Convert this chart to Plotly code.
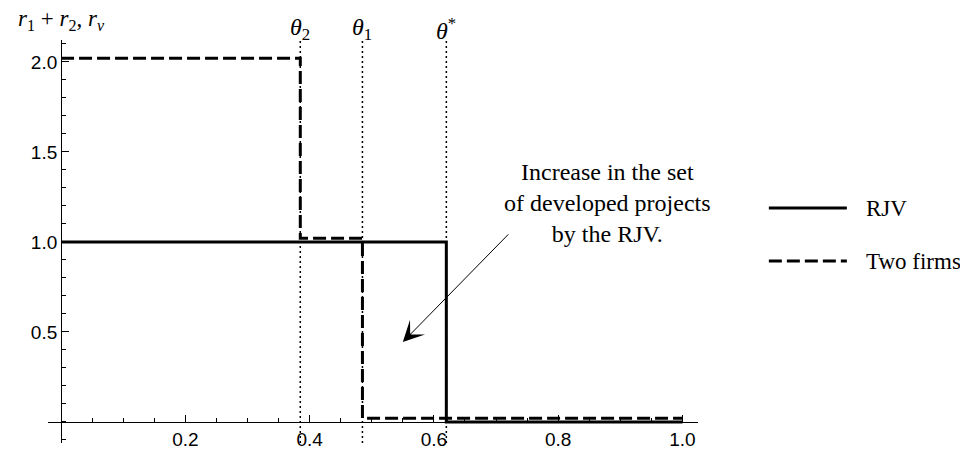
import plotly.graph_objects as go

# step levels
rjv_x = [0.0, 0.62, 1.0]
rjv_y = [1.0, 0.0, 0.0]
two_x = [0.0, 0.385, 0.485, 1.0]
two_y = [2.02, 1.02, 0.02, 0.02]

# thresholds marked by dotted lines
thresholds = [0.385, 0.485, 0.62]
threshold_labels = ["<i>θ</i><sub>2</sub>", "<i>θ</i><sub>1</sub>", "<i>θ</i><sup>*</sup>"]

x_ticks = [0.2, 0.4, 0.6, 0.8, 1.0]
y_ticks = [0.5, 1.0, 1.5, 2.0]

xr = [-0.021, 1.025]
yr = [-0.117, 2.122]

serif = "Liberation Serif"
sans = "Liberation Sans"

fig = go.Figure()
fig.add_scatter(x=rjv_x, y=rjv_y, mode="lines", line_shape="hv",
                line=dict(color="black", width=3), name="RJV", showlegend=False)
fig.add_scatter(x=two_x, y=two_y, mode="lines", line_shape="hv",
                line=dict(color="black", width=3, dash="13px,5px"),
                name="Two firms", showlegend=False)

for t, lab in zip(thresholds, threshold_labels):
    fig.add_vline(x=t, line_width=1.5, line_dash="2px,3px", line_color="black")
    fig.add_annotation(x=t, xref="x", y=1.027, yref="paper", text=lab,
                       showarrow=False, yanchor="middle",
                       font=dict(family=serif, size=24, color="black"))

# axis titles
fig.add_annotation(x=0, xref="x", y=1.05, yref="paper", yanchor="middle",
                   text="<i>r</i><sub>1</sub> + <i>r</i><sub>2</sub>, <i>r<sub>v</sub></i>",
                   showarrow=False, font=dict(family=serif, size=23, color="black"))
fig.add_annotation(x=1.064, y=0, text="<i>θ</i>", showarrow=False, yanchor="middle",
                   font=dict(family=serif, size=24, color="black"))

# arrow and note
fig.add_annotation(x=0.55, y=0.444, ax=0.722, ay=1.05, axref="x", ayref="y",
                   text="", showarrow=True, arrowhead=3, arrowsize=3.5,
                   arrowwidth=1, arrowcolor="black")
fig.add_annotation(x=0.879, y=1.217, yanchor="middle",
                   text="Increase in the set<br>of developed projects<br>by the RJV.",
                   showarrow=False, align="center",
                   font=dict(family=serif, size=24, color="black"))

# hand-drawn legend
legend_items = [("RJV", "solid", 0.583), ("Two firms", "13px,5px", 0.4516)]
for name, dash, ly in legend_items:
    fig.add_shape(type="line", xref="paper", yref="paper", x0=1.109, x1=1.229,
                  y0=ly, y1=ly, line=dict(color="black", width=3, dash=dash))
    fig.add_annotation(xref="paper", yref="paper", x=1.255, y=ly, text=name,
                       xanchor="left", yanchor="middle", showarrow=False,
                       font=dict(family=serif, size=23, color="black"))

fig.update_xaxes(range=xr, anchor="free", position=(0 - yr[0]) / (yr[1] - yr[0]),
                 showline=True, linecolor="black", linewidth=1, showgrid=False,
                 zeroline=False, tickvals=x_ticks, ticktext=[f"{v:.1f}" for v in x_ticks],
                 ticks="inside", ticklen=7, tickcolor="black",
                 minor=dict(dtick=0.05, tick0=0, ticks="inside", ticklen=4, tickcolor="black"),
                 tickfont=dict(family=sans, size=19, color="black"), automargin=False)
fig.update_yaxes(range=yr, anchor="free", position=(0 - xr[0]) / (xr[1] - xr[0]),
                 showline=True, linecolor="black", linewidth=1, showgrid=False,
                 zeroline=False, tickvals=y_ticks, ticktext=[f"{v:.1f}" for v in y_ticks],
                 ticks="inside", ticklen=7, tickcolor="black",
                 minor=dict(dtick=0.1, tick0=0, ticks="inside", ticklen=4, tickcolor="black"),
                 tickfont=dict(family=sans, size=19, color="black"), automargin=False)

# the page adds an 8px body margin, so the figure is 8px smaller and shifted up/left
fig.update_layout(width=960, height=442, plot_bgcolor="white", paper_bgcolor="white",
                  margin=dict(l=40, r=270, t=32, b=7), showlegend=False)

fig.write_html("out.html")
